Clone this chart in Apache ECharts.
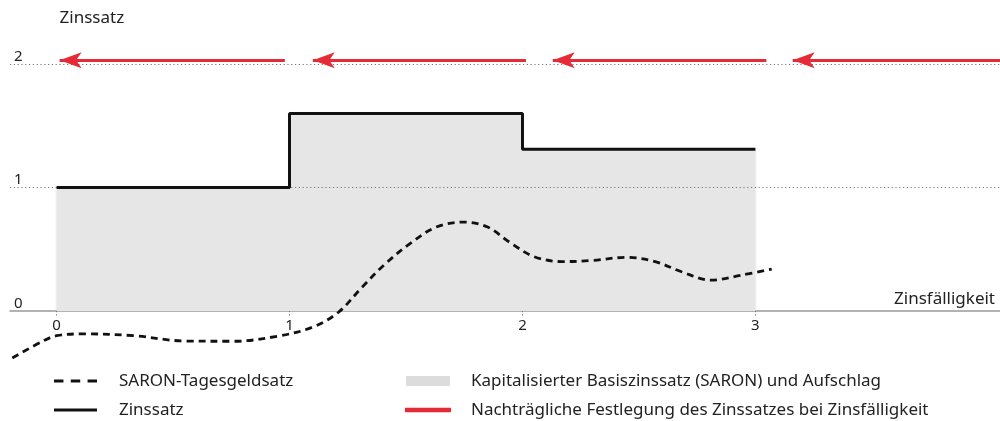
<!DOCTYPE html>
<html><head><meta charset="utf-8">
<script src="https://cdn.jsdelivr.net/npm/echarts@6/dist/echarts.min.js"></script>
<style>html,body{margin:0;padding:0;background:#fff}#c{width:1000px;height:421px}</style>
</head><body><div id="c"></div>
<script>
// ---- data ----
const xTickValues = [0, 1, 2, 3];
const yTickValues = [0, 1, 2];
const gridLevels = [1, 2];
const saronX = [-0.19, -0.06, 0, 0.12, 0.33, 0.55, 0.76, 0.96, 1.10, 1.21, 1.31, 1.41, 1.52, 1.63, 1.75, 1.85, 1.95, 2.05, 2.17, 2.30, 2.45, 2.57, 2.68, 2.81, 2.94, 3.07];
const saronY = [-0.38, -0.245, -0.2, -0.185, -0.2, -0.243, -0.245, -0.2, -0.13, -0.01, 0.19, 0.38, 0.55, 0.68, 0.72, 0.68, 0.55, 0.44, 0.40, 0.41, 0.435, 0.40, 0.32, 0.25, 0.29, 0.34];
const rateX = [0, 1, 2, 3];
const rateY = [1, 1.6, 1.31, 1.31];
const arrowFromX = [0.98, 2.015, 3.047, 4.1];
const arrowToX = [0.013, 1.10, 2.13, 3.16];
const arrowLevel = 2.03;
const names = {
  saron: 'SARON-Tagesgeldsatz',
  rate: 'Zinssatz',
  area: 'Kapitalisierter Basiszinssatz (SARON) und Aufschlag',
  fix: 'Nachträgliche Festlegung des Zinssatzes bei Zinsfälligkeit'
};
const xName = 'Zinsfälligkeit';
const yName = 'Zinssatz';

// ---- build ----
const FONT = 'Noto Sans';
const saronData = saronX.map((x, i) => [x, saronY[i]]);
const rateData = rateX.map((x, i) => [x, rateY[i]]);
const arrowData = arrowFromX.map((x, i) => ({ coords: [[x, arrowLevel], [arrowToX[i], arrowLevel]] }));

const chart = echarts.init(document.getElementById('c'), null, { renderer: 'canvas' });
chart.setOption({
  animation: false,
  textStyle: { fontFamily: FONT },
  grid: { left: 10, right: 0, top: 27, bottom: 110, outerBoundsMode: 'none', containLabel: false },
  xAxis: {
    type: 'value', min: -0.2, max: 4.05,
    name: xName, nameLocation: 'end', nameGap: -5,
    nameTextStyle: { align: 'right', verticalAlign: 'bottom', fontSize: 17, color: '#222', fontFamily: FONT, padding: [0, 0, 3, 0] },
    axisLine: { show: true, lineStyle: { color: '#999', width: 1.5 } },
    axisTick: { show: true, customValues: xTickValues, length: 6, lineStyle: { color: '#777', type: [1.2, 2], width: 1 } },
    axisLabel: { show: true, customValues: xTickValues, margin: 7, fontSize: 15, color: '#222', fontFamily: FONT },
    splitLine: { show: false }
  },
  yAxis: {
    type: 'value', min: 0, max: 2.3,
    name: yName, nameLocation: 'end', nameGap: 9,
    nameTextStyle: { align: 'left', verticalAlign: 'middle', fontSize: 17, color: '#222', fontFamily: FONT, padding: [0, 0, 0, 3] },
    axisLine: { show: false },
    axisTick: { show: false },
    axisLabel: { show: true, inside: true, customValues: yTickValues, margin: 4, verticalAlign: 'bottom', align: 'left', fontSize: 15, color: '#222', fontFamily: FONT, padding: [0, 0, 0, 0] },
    splitLine: { show: false }
  },
  legend: [
    {
      left: 54, top: 371, height: 55, padding: 0, orient: 'vertical', itemWidth: 43, itemHeight: 14, itemGap: 9,
      textStyle: { fontSize: 17, lineHeight: 20, color: '#222', fontFamily: FONT, padding: [0, 0, 0, 17] },
      data: [
        { name: names.saron, icon: 'path://M0,0h9v3h-9z M16,0h9v3h-9z M32,0h9v3h-9z', itemStyle: { color: '#111' } },
        { name: names.rate, icon: 'path://M0,0h43v3h-43z', itemStyle: { color: '#111' } }
      ],
      selectedMode: false
    },
    {
      left: 405, top: 371, height: 55, padding: 0, orient: 'vertical', itemWidth: 44, itemHeight: 14, itemGap: 9,
      textStyle: { fontSize: 17, lineHeight: 20, color: '#222', fontFamily: FONT, padding: [0, 0, 0, 16] },
      data: [
        { name: names.area, icon: 'path://M0,0h44v10h-44z', itemStyle: { color: '#dcdcdc' } },
        { name: names.fix, icon: 'path://M0,0h44v2.6h-44z', itemStyle: { color: '#e52b38' } }
      ],
      selectedMode: false
    }
  ],
  series: [
    {
      name: names.area, type: 'line', step: 'end', data: rateData, z: 1,
      showSymbol: false, symbol: 'none', silent: true,
      lineStyle: { width: 0, color: '#e6e6e6' },
      itemStyle: { color: '#e6e6e6' },
      areaStyle: { color: '#e6e6e6', opacity: 1, origin: 0, shadowBlur: 3, shadowColor: 'rgba(0,0,0,0.12)' },
      markLine: {
        silent: true, symbol: ['none', 'none'], z: 3,
        label: { show: false },
        lineStyle: { color: '#777', type: [1.2, 2.6], width: 1 },
        data: gridLevels.map(v => ({ yAxis: v }))
      }
    },
    {
      name: names.rate, type: 'line', step: 'end', data: rateData, z: 4,
      showSymbol: false, symbol: 'none',
      lineStyle: { width: 3, color: '#111' }, itemStyle: { color: '#111' }
    },
    {
      name: names.saron, type: 'line', smooth: 0.35, data: saronData, z: 5, clip: false,
      showSymbol: false, symbol: 'none',
      lineStyle: { width: 2.8, color: '#111', type: [7, 5] }, itemStyle: { color: '#111' }
    },
    {
      name: names.fix, type: 'lines', coordinateSystem: 'cartesian2d', z: 6,
      symbol: ['none', 'arrow'], symbolSize: [[0, 0], [12, 22]],
      lineStyle: { color: '#e52b38', width: 3, opacity: 1 },
      itemStyle: { color: '#e52b38' },
      data: arrowData
    }
  ]
});
</script></body></html>
